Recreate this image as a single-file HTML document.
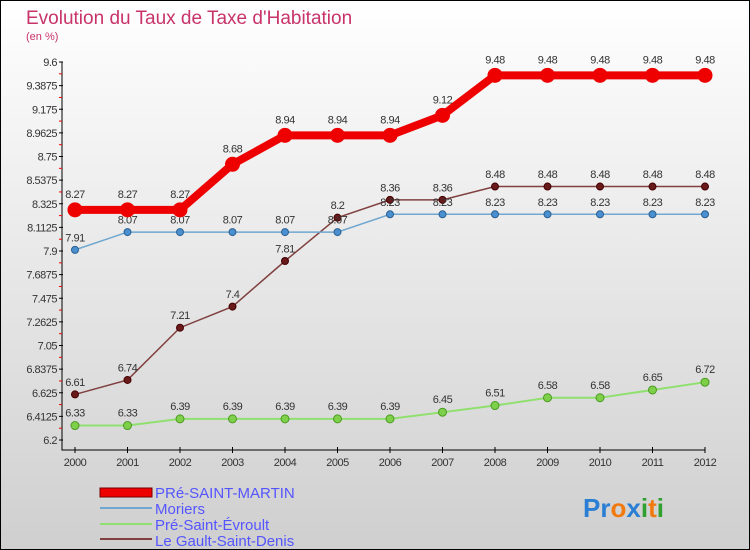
<!DOCTYPE html>
<html><head><meta charset="utf-8"><style>
body{margin:0;}
#c{width:750px;height:550px;position:relative;overflow:hidden;font-family:"Liberation Sans",sans-serif;}
svg text{font-family:"Liberation Sans",sans-serif;}
</style></head><body>
<div id="c">
<svg id="s" width="750" height="550" xmlns="http://www.w3.org/2000/svg">
<defs><linearGradient id="bg" x1="0" y1="0" x2="0" y2="1"><stop offset="0" stop-color="#ffffff"/><stop offset="1" stop-color="#cfcfcf"/></linearGradient></defs>
<rect x="0.5" y="0.5" width="749" height="549" fill="url(#bg)" stroke="#000"/>
<text x="26" y="24" font-size="19" fill="#c8336a">Evolution du Taux de Taxe d'Habitation</text>
<text x="26" y="40" font-size="11" fill="#c8336a">(en %)</text>
<g id="g"></g>
<g>
<rect x="100" y="488" width="52" height="9" fill="#e00" stroke="#700"/>
<text x="155" y="498" font-size="15" fill="#5555ff">PRé-SAINT-MARTIN</text>
<line x1="100" y1="508" x2="152" y2="508" stroke="#6fa7d0" stroke-width="2"/>
<text x="155" y="514" font-size="15" fill="#5555ff">Moriers</text>
<line x1="100" y1="524" x2="152" y2="524" stroke="#90e070" stroke-width="2"/>
<text x="155" y="530" font-size="15" fill="#5555ff">Pré-Saint-Évroult</text>
<line x1="100" y1="539" x2="152" y2="539" stroke="#804040" stroke-width="2"/>
<text x="155" y="546" font-size="15" fill="#5555ff">Le Gault-Saint-Denis</text>
</g>
<text x="583" y="517" font-size="26" font-weight="bold"><tspan fill="#2a7fd4">Pr</tspan><tspan fill="#f07a10">o</tspan><tspan fill="#2a7fd4">x</tspan><tspan fill="#30a030">i</tspan><tspan fill="#f07a10">t</tspan><tspan fill="#30a030">i</tspan></text>
</svg></div>
<script>
const years=["2000","2001","2002","2003","2004","2005","2006","2007","2008","2009","2010","2011","2012"];
const yTicks=["6.2","6.4125","6.625","6.8375","7.05","7.2625","7.475","7.6875","7.9","8.1125","8.325","8.5375","8.75","8.9625","9.175","9.3875","9.6"];
const preSaintMartin=[8.27,8.27,8.27,8.68,8.94,8.94,8.94,9.12,9.48,9.48,9.48,9.48,9.48];
const moriers=[7.91,8.07,8.07,8.07,8.07,8.07,8.23,8.23,8.23,8.23,8.23,8.23,8.23];
const preSaintEvroult=[6.33,6.33,6.39,6.39,6.39,6.39,6.39,6.45,6.51,6.58,6.58,6.65,6.72];
const gaultSaintDenis=[6.61,6.74,7.21,7.4,7.81,8.2,8.36,8.36,8.48,8.48,8.48,8.48,8.48];
const yMin=6.2,yMax=9.6;
const X=i=>75+i*52.5, Y=v=>440-(v-yMin)/(yMax-yMin)*378;
const g=document.getElementById('g'),NS='http://www.w3.org/2000/svg';
function mk(t,a,p){const e=document.createElementNS(NS,t);for(const k in a)e.setAttribute(k,a[k]);(p||g).appendChild(e);return e;}
let ax=mk('path',{d:'M62 62V450H705',stroke:'#000',fill:'none','stroke-width':1});


yTicks.forEach((t,i)=>{const y=Y(+t);
 mk('line',{x1:59,x2:63,y1:y,y2:y,stroke:'#000'});
 if(i<yTicks.length-1)mk('line',{x1:59,x2:62,y1:y-11.8,y2:y-11.8,stroke:'#e00'});
 const tx=mk('text',{x:57,y:y+4,'font-size':11,'text-anchor':'end',fill:'#333','letter-spacing':'-0.5'});tx.textContent=t;
 
 });
years.forEach((t,i)=>{const x=X(i);
 mk('line',{x1:x,x2:x,y1:447,y2:453,stroke:'#000'});
 const tx=mk('text',{x:x,y:466,'font-size':11,'text-anchor':'middle',fill:'#333','letter-spacing':'-0.5'});tx.textContent=t;
 
 });
function series(d,name,col,sw,r,dot,dstroke){
 const pl=mk('polyline',{points:d.map((v,i)=>X(i)+','+Y(v)).join(' '),fill:'none',stroke:col,'stroke-width':sw});
 
 
 d.forEach((v,i)=>{const c=mk('circle',{cx:X(i),cy:Y(v),r:r,fill:dot,stroke:dstroke,'stroke-width':1});
  
  
  const t=mk('text',{x:X(i),y:Y(v)-(r+5),'font-size':11,'text-anchor':'middle',fill:'#333','letter-spacing':'-0.5'});t.textContent=v;
  
  });
}
series(preSaintEvroult,'pre-saint-evroult','#90e070',2,4,'#7ed04a','#4a9a20');
series(gaultSaintDenis,'le-gault-saint-denis','#804040',1.5,3.5,'#6a1a1a','#400');
series(moriers,'moriers','#6fa7d0',1.5,3.5,'#4a90d0','#2a6090');
series(preSaintMartin,'pre-saint-martin','#ee0000',8,7,'#ee0000','#ee0000');
</script>
</body></html>
